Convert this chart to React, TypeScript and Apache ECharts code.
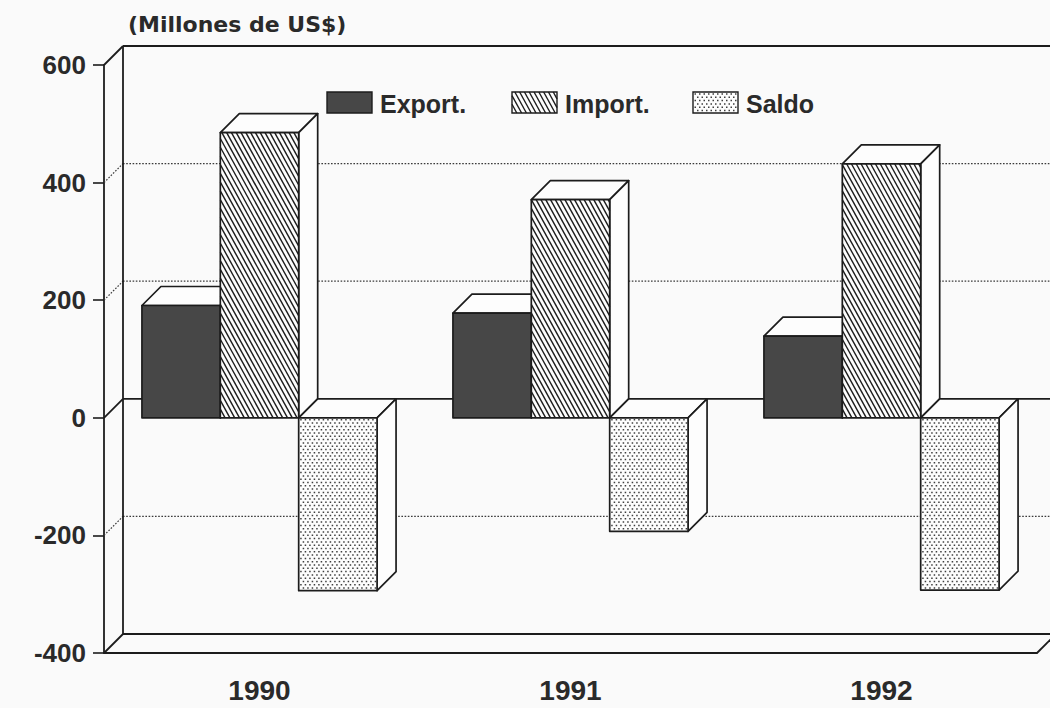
import React, { useEffect, useRef } from 'react';
import * as echarts from 'echarts';

// ---- data ----
const YEARS = ['1990', '1991', '1992'];
const EXPORTS = [191, 178, 139];
const IMPORTS = [485, 371, 432];
const SALDO = [-294, -193, -293];
const Y_TICKS = [600, 400, 200, 0, -200, -400];
const SERIES_NAMES = ['Export.', 'Import.', 'Saldo'];
const TITLE = '(Millones de US$)';

// ---- styling ----
const DX = 19;
const DY = -19;
const FONT = '"Liberation Sans", Arial, Helvetica, sans-serif';
const TITLE_FONT = '"DejaVu Sans", "Liberation Sans", sans-serif';
const INK = '#1c1c1c';
const EXPORT_FILL = '#474747';
const FACE = '#fdfdfd';
const BG = '#fafafa';
const HATCH_SLOPE = 0.55;
const HATCH_STEP = 4.8;

function hatchLines(x0: number, y0: number, w: number, h: number, lw = 1.4) {
  const out: any[] = [];
  const x1 = x0 + w;
  const y1 = y0 + h;
  for (let c = x0 - h * HATCH_SLOPE; c < x1; c += HATCH_STEP) {
    const ya = Math.max(y0, y0 + (x0 - c) / HATCH_SLOPE);
    const yb = Math.min(y1, y0 + (x1 - c) / HATCH_SLOPE);
    if (yb - ya < 0.5) continue;
    out.push({
      type: 'line',
      silent: true,
      shape: { x1: c + (ya - y0) * HATCH_SLOPE, y1: ya, x2: c + (yb - y0) * HATCH_SLOPE, y2: yb },
      style: { stroke: INK, lineWidth: lw },
    });
  }
  return out;
}

function dotRows(x0: number, y0: number, w: number, h: number) {
  const out: any[] = [];
  let i = 0;
  for (let y = y0 + 2; y < y0 + h - 1; y += 3.3, i++) {
    out.push({
      type: 'line',
      silent: true,
      shape: { x1: x0 + 1.5, y1: y, x2: x0 + w - 1, y2: y },
      style: { stroke: '#3e3e3e', lineWidth: 1.5, lineDash: [1.5, 3.0], lineDashOffset: i % 2 ? 2.25 : 0 },
    });
  }
  return out;
}

function pattern(kind: number, x: number, y: number, w: number, h: number) {
  if (kind === 1) return hatchLines(x, y, w, h);
  if (kind === 2) return dotRows(x, y, w, h);
  return [];
}

const makeBarRender = (k: number) => (params: any, api: any) => {
  const cat = api.value(0);
  const val = api.value(1);
  const base = api.coord([cat, 0]);
  const end = api.coord([cat, val]);
  const band = api.size([1, 0])[0];
  const bw = band * 0.252;
  const x0 = base[0] - 1.5 * bw + k * bw;
  const x1 = x0 + bw;
  const yT = Math.min(base[1], end[1]);
  const yB = Math.max(base[1], end[1]);
  const h = yB - yT;
  const edge = { stroke: INK, lineWidth: 1.7, lineJoin: 'round' };
  return {
    type: 'group',
    children: [
      { type: 'polygon', shape: { points: [[x0, yT], [x0 + DX, yT + DY], [x1 + DX, yT + DY], [x1, yT]] }, style: { fill: FACE, ...edge } },
      { type: 'polygon', shape: { points: [[x1, yT], [x1 + DX, yT + DY], [x1 + DX, yB + DY], [x1, yB]] }, style: { fill: FACE, ...edge } },
      { type: 'rect', shape: { x: x0, y: yT, width: bw, height: h }, style: { fill: k === 0 ? EXPORT_FILL : FACE } },
      ...pattern(k, x0, yT, bw, h),
      { type: 'rect', shape: { x: x0, y: yT, width: bw, height: h }, style: { fill: 'none', ...edge } },
    ],
  };
};

const Y_MAX = Y_TICKS[0];
const Y_MIN = Y_TICKS[Y_TICKS.length - 1];

const frameRender = (params: any, api: any) => {
  const v = api.value(1);
  const cs = params.coordSys;
  const y = api.coord([0, v])[1];
  const yTopFront = api.coord([0, Y_MAX])[1];
  const xL = cs.x;
  const xR = cs.x + cs.width;
  const solid = v === Y_MAX || v === 0 || v === Y_MIN;
  const dotted = { stroke: '#3a3a3a', lineWidth: 1.2, lineDash: [1.6, 1.6] };
  const line = { stroke: INK, lineWidth: 1.8 };
  const st = solid ? line : dotted;
  const children: any[] = [
    { type: 'line', shape: { x1: xL, y1: y, x2: xL + DX, y2: y + DY }, style: st },
    { type: 'line', shape: { x1: xL + DX, y1: y + DY, x2: xR + DX, y2: y + DY }, style: st },
  ];
  if (v === Y_MIN) {
    children.push({ type: 'line', shape: { x1: xR, y1: y, x2: xR + DX, y2: y + DY }, style: line });
    children.push({ type: 'line', shape: { x1: xL + DX, y1: yTopFront + DY, x2: xL + DX, y2: y + DY }, style: line });
  }
  return { type: 'group', children };
};

function legendGraphics() {
  const xs = [327, 512, 693];
  const els: any[] = [];
  SERIES_NAMES.forEach((name, i) => {
    const x = xs[i];
    const y = 92;
    const w = 45;
    const h = 21;
    els.push({ type: 'rect', shape: { x, y, width: w, height: h }, style: { fill: i === 0 ? EXPORT_FILL : FACE } });
    pattern(i, x, y, w, h).forEach((e) => els.push(e));
    els.push({ type: 'rect', shape: { x, y, width: w, height: h }, style: { fill: 'none', stroke: INK, lineWidth: 1.4 } });
    els.push({
      type: 'text',
      x: x + 53,
      y: y + h / 2 + 1,
      style: { text: name, font: `bold 25px ${FONT}`, fill: '#2a2a2a', textVerticalAlign: 'middle', verticalAlign: 'middle' },
    });
  });
  return els;
}

export default function App() {
  const ref = useRef<HTMLDivElement>(null);
  useEffect(() => {
    if (!ref.current) return;
    const chart = echarts.init(ref.current, undefined, { renderer: 'svg' });
    const values = [EXPORTS, IMPORTS, SALDO];
    chart.setOption({
      animation: false,
      backgroundColor: BG,
      title: {
        text: TITLE,
        left: 123,
        top: 8,
        textStyle: { fontFamily: TITLE_FONT, fontWeight: 'bold', fontSize: 22, color: '#2a2a2a' },
      },
      grid: { left: 104, right: 13, top: 65, bottom: 55, containLabel: false },
      xAxis: {
        type: 'category',
        data: YEARS,
        axisLine: { onZero: false, lineStyle: { color: INK, width: 1.8 } },
        axisTick: { alignWithLabel: true, length: 10, lineStyle: { color: INK, width: 1.6 } },
        axisLabel: { fontFamily: FONT, fontWeight: 'bold', fontSize: 28, color: '#2a2a2a', margin: 23 },
        splitLine: { show: false },
      },
      yAxis: {
        type: 'value',
        min: Y_MIN,
        max: Y_MAX,
        interval: 200,
        axisLine: { show: true, lineStyle: { color: INK, width: 1.8 } },
        axisTick: { show: true, length: 11, lineStyle: { color: INK, width: 1.6 } },
        axisLabel: { fontFamily: FONT, fontWeight: 'bold', fontSize: 26, color: '#2a2a2a', margin: 18 },
        splitLine: { show: false },
      },
      series: [
        {
          type: 'custom',
          name: 'frame',
          silent: true,
          z: 1,
          renderItem: frameRender,
          data: Y_TICKS.map((v) => [0, v]),
        },
        ...SERIES_NAMES.map((name, k) => ({
          type: 'custom',
          name,
          z: 2,
          renderItem: makeBarRender(k),
          data: YEARS.map((_, i) => [i, values[k][i]]),
        })),
      ],
      graphic: legendGraphics(),
    });
    return () => chart.dispose();
  }, []);
  return <div ref={ref} style={{ position: 'fixed', left: 0, top: 0, width: 1050, height: 708 }} />;
}
